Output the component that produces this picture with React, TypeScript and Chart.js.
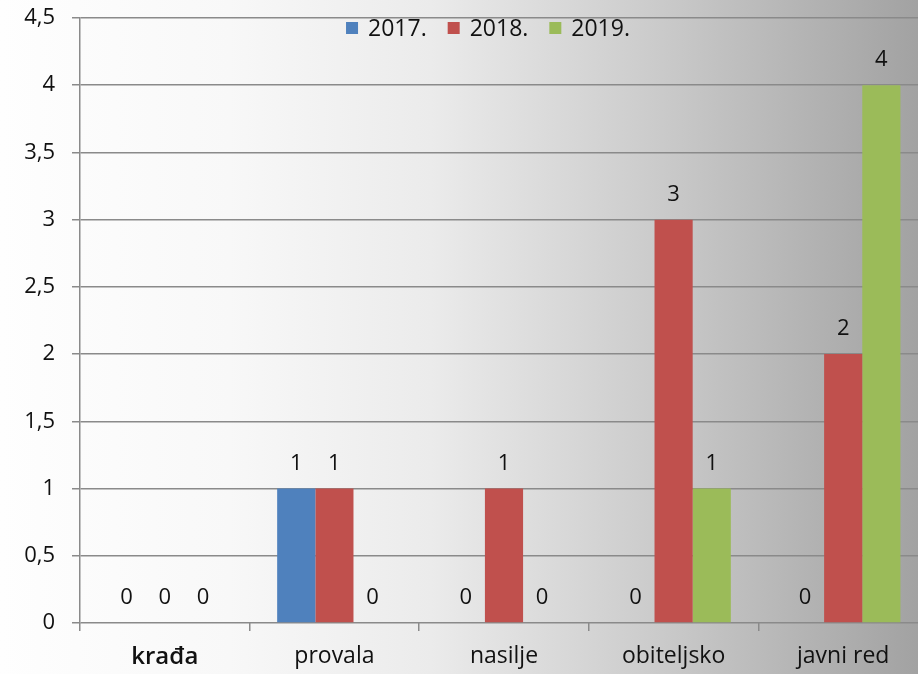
import React, { useEffect, useRef } from "react";
import { Chart, registerables } from "chart.js";

Chart.register(...registerables);

const categories = ["krađa", "provala", "nasilje", "obiteljsko", "javni red"];
const seriesNames = ["2017.", "2018.", "2019."];
const values2017 = [0, 1, 0, 0, 0];
const values2018 = [0, 1, 1, 3, 2];
const values2019 = [0, 0, 0, 1, 4];
const seriesColors = ["#4F81BD", "#C0504D", "#9BBB59"];

const FONT = "'Open Sans', 'Noto Sans', sans-serif";
const TEXT = "#111111";

const bgPlugin = {
  id: "bg",
  beforeDraw(chart: any) {
    const { ctx, width, height } = chart;
    const g = ctx.createLinearGradient(0, 0, 918, 0);
    g.addColorStop(0, "#fefefe");
    g.addColorStop(0.25, "#f8f8f8");
    g.addColorStop(0.47, "#ebebeb");
    g.addColorStop(0.7, "#cdcdcd");
    g.addColorStop(1, "#a2a2a2");
    ctx.save();
    ctx.fillStyle = g;
    ctx.fillRect(0, 0, width, height);
    ctx.restore();
  },
};

const labelPlugin = {
  id: "valueLabels",
  afterDatasetsDraw(chart: any) {
    const { ctx } = chart;
    ctx.save();
    ctx.font = `22px ${FONT}`;
    ctx.fillStyle = TEXT;
    ctx.textAlign = "center";
    ctx.textBaseline = "middle";
    chart.data.datasets.forEach((ds: any, i: number) => {
      const meta = chart.getDatasetMeta(i);
      meta.data.forEach((el: any, j: number) => {
        ctx.fillText(String(ds.data[j]), el.x, el.y - 25);
      });
    });
    ctx.restore();
  },
};

const legendPlugin = {
  id: "topLegend",
  afterDraw(chart: any) {
    const { ctx, chartArea } = chart;
    ctx.save();
    ctx.font = `23px ${FONT}`;
    ctx.textBaseline = "middle";
    const box = 12;
    const gapBox = 10;
    const gapItem = 21;
    const items = chart.data.datasets.map((d: any) => ({
      label: d.label,
      color: d.backgroundColor,
      w: ctx.measureText(d.label).width,
    }));
    const total = items.reduce((s: number, it: any) => s + box + gapBox + it.w, 0) + gapItem * (items.length - 1);
    const cx = (chartArea.left + chartArea.right) / 2 - 16;
    let x = cx - total / 2;
    const y = chartArea.top + 10;
    items.forEach((it: any) => {
      ctx.fillStyle = it.color;
      ctx.fillRect(x, y - box / 2, box, box);
      x += box + gapBox;
      ctx.fillStyle = TEXT;
      ctx.textAlign = "left";
      ctx.fillText(it.label, x, y + 1);
      x += it.w + gapItem;
    });
    ctx.restore();
  },
};

export default function App() {
  const ref = useRef<HTMLCanvasElement>(null);
  useEffect(() => {
    if (!ref.current) return;
    const chart = new Chart(ref.current, {
      type: "bar",
      data: {
        labels: categories,
        datasets: [values2017, values2018, values2019].map((vals, i) => ({
          label: seriesNames[i],
          data: vals,
          backgroundColor: seriesColors[i],
          borderWidth: 0,
          categoryPercentage: 0.675,
          barPercentage: 1,
        })),
      },
      options: {
        responsive: false,
        animation: false,
        devicePixelRatio: 1,
        layout: { padding: { top: 18, left: 0, right: 0, bottom: 0 } },
        plugins: {
          legend: { display: false },
          tooltip: { enabled: false },
        },
        scales: {
          x: {
            grid: {
              drawOnChartArea: false,
              drawTicks: true,
              tickLength: 8,
              offset: true,
              color: "#8a8a8a",
              lineWidth: 1.5,
            },
            border: { display: false },
            ticks: {
              color: TEXT,
              padding: 12,
              font: (c: any) => ({
                family: FONT,
                size: c.index === 0 ? 24 : 23,
                weight: c.index === 0 ? "600" : "normal",
              }),
            },
            afterFit: (s: any) => {
              s.height = 51;
              s.paddingLeft = 0;
              s.paddingRight = 0;
            },
          },
          y: {
            min: 0,
            max: 4.5,
            ticks: {
              stepSize: 0.5,
              color: TEXT,
              padding: 17,
              font: { family: FONT, size: 22 },
              callback: (v: any) => String(v).replace(".", ","),
            },
            grid: {
              color: "#8a8a8a",
              lineWidth: 1.5,
              tickLength: 8,
            },
            border: { display: true, color: "#8a8a8a", width: 1.5 },
            afterFit: (s: any) => {
              s.width = 80;
              s.paddingTop = 0;
              s.paddingBottom = 0;
            },
          },
        },
      },
      plugins: [bgPlugin, labelPlugin, legendPlugin],
    });
    return () => chart.destroy();
  }, []);
  return (
    <div
      style={{
        position: "absolute",
        left: 0,
        top: 0,
        width: 918,
        height: 674,
        overflow: "hidden",
      }}
    >
      <canvas ref={ref} width={928} height={674} style={{ display: "block" }} />
    </div>
  );
}
